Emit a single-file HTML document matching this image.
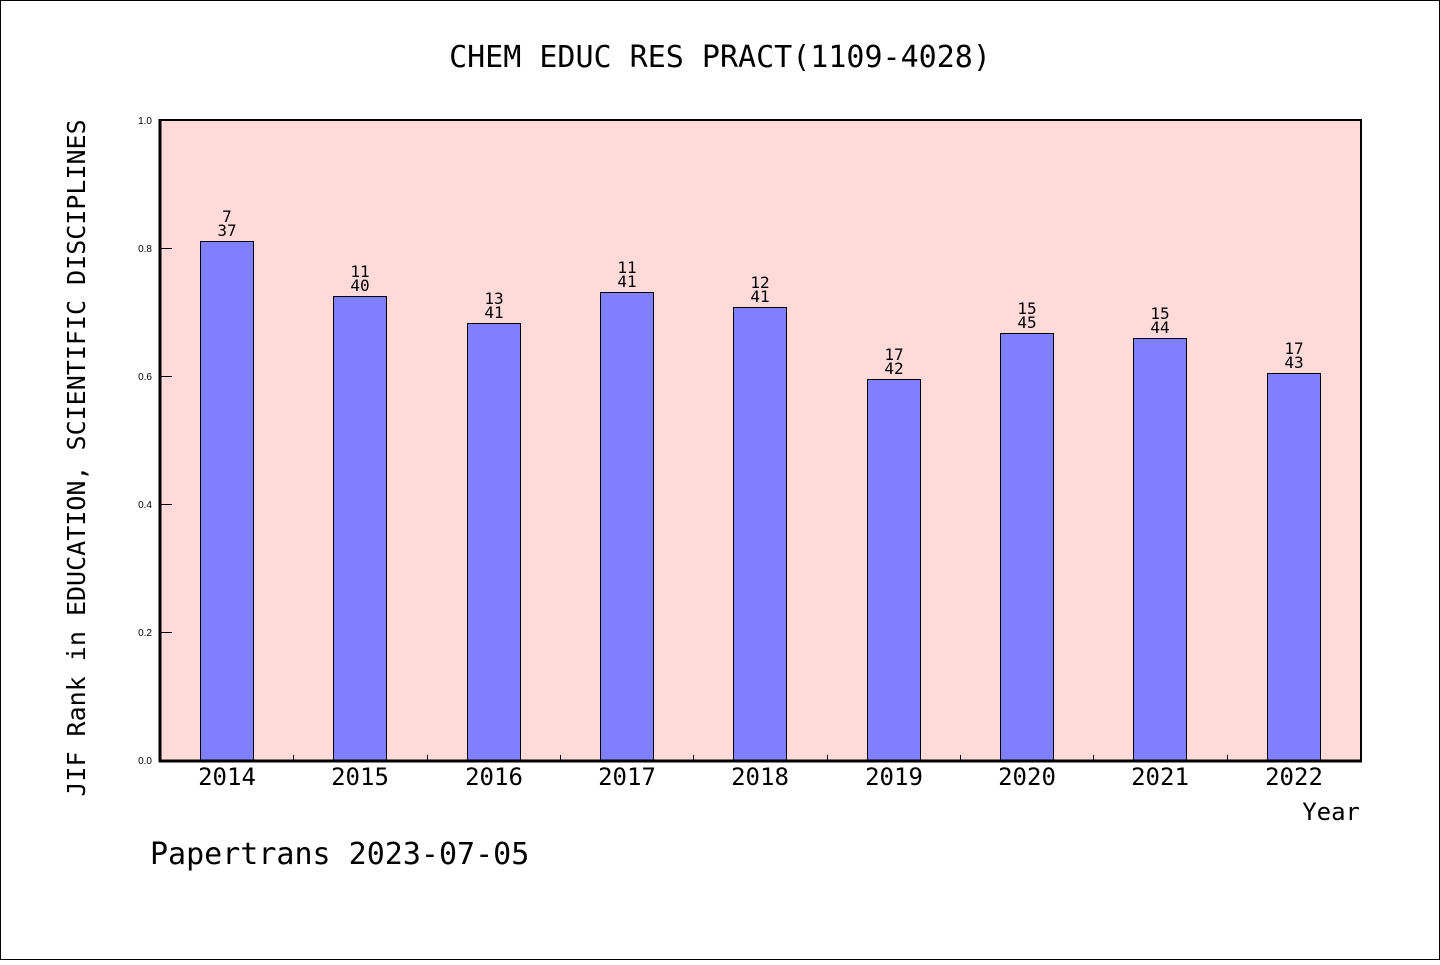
<!DOCTYPE html>
<html><head><meta charset="utf-8"><style>
body{margin:0;background:#fff}
svg text{font-family:"WenQuanYi Zen Hei","DejaVu Sans Mono",monospace}
</style></head><body>
<svg width="1440" height="960" xmlns="http://www.w3.org/2000/svg">
<rect x="0.5" y="0.5" width="1439" height="959" fill="#fff" stroke="#000"/>
<text x="720" y="67" font-size="30" text-anchor="middle">CHEM EDUC RES PRACT(1109-4028)</text>
<rect x="160" y="120" width="1201" height="640" fill="#ffdad8"/>
<g fill="#8080ff" stroke="#000" stroke-width="1">
<rect x="200.5" y="241.5" width="53" height="519"/>
<rect x="333.5" y="296.5" width="53" height="464"/>
<rect x="467.5" y="323.5" width="53" height="437"/>
<rect x="600.5" y="292.5" width="53" height="468"/>
<rect x="733.5" y="307.5" width="53" height="453"/>
<rect x="867.5" y="379.5" width="53" height="381"/>
<rect x="1000.5" y="333.5" width="53" height="427"/>
<rect x="1133.5" y="338.5" width="53" height="422"/>
<rect x="1267.5" y="373.5" width="53" height="387"/>
</g>
<g font-size="16" text-anchor="middle">
<text x="227" y="222">7</text><text x="227" y="236">37</text>
<text x="360" y="277">11</text><text x="360" y="291">40</text>
<text x="494" y="304">13</text><text x="494" y="318">41</text>
<text x="627" y="273">11</text><text x="627" y="287">41</text>
<text x="760" y="288">12</text><text x="760" y="302">41</text>
<text x="894" y="360">17</text><text x="894" y="374">42</text>
<text x="1027" y="314">15</text><text x="1027" y="328">45</text>
<text x="1160" y="319">15</text><text x="1160" y="333">44</text>
<text x="1294" y="354">17</text><text x="1294" y="368">43</text>
</g>
<rect x="160" y="120" width="1201" height="641" fill="none" stroke="#000" stroke-width="2"/>
<line x1="160" y1="119" x2="160" y2="762" stroke="#000" stroke-width="3"/>
<line x1="159" y1="761" x2="1362" y2="761" stroke="#000" stroke-width="3"/>
<g stroke="#000" stroke-width="1">
<line x1="161" y1="248.5" x2="172" y2="248.5"/>
<line x1="161" y1="376.5" x2="172" y2="376.5"/>
<line x1="161" y1="504.5" x2="172" y2="504.5"/>
<line x1="161" y1="632.5" x2="172" y2="632.5"/>
<line x1="293.5" y1="755" x2="293.5" y2="760"/><line x1="427.5" y1="755" x2="427.5" y2="760"/>
<line x1="560.5" y1="755" x2="560.5" y2="760"/><line x1="693.5" y1="755" x2="693.5" y2="760"/>
<line x1="827.5" y1="755" x2="827.5" y2="760"/><line x1="960.5" y1="755" x2="960.5" y2="760"/>
<line x1="1093.5" y1="755" x2="1093.5" y2="760"/><line x1="1227.5" y1="755" x2="1227.5" y2="760"/>
</g>
<g font-size="10" text-anchor="end">
<text x="152" y="124" style="font-family:'Liberation Sans',sans-serif">1.0</text>
<text x="152" y="252" style="font-family:'Liberation Sans',sans-serif">0.8</text>
<text x="152" y="380" style="font-family:'Liberation Sans',sans-serif">0.6</text>
<text x="152" y="508" style="font-family:'Liberation Sans',sans-serif">0.4</text>
<text x="152" y="636" style="font-family:'Liberation Sans',sans-serif">0.2</text>
<text x="152" y="764" style="font-family:'Liberation Sans',sans-serif">0.0</text>
</g>
<g font-size="24" text-anchor="middle">
<text x="227" y="785">2014</text><text x="360" y="785">2015</text><text x="494" y="785">2016</text>
<text x="627" y="785">2017</text><text x="760" y="785">2018</text><text x="894" y="785">2019</text>
<text x="1027" y="785">2020</text><text x="1160" y="785">2021</text><text x="1294" y="785">2022</text>
</g>
<text x="1360" y="820" font-size="24" text-anchor="end">Year</text>
<text transform="translate(85,458) rotate(-90)" font-size="25" text-anchor="middle">JIF Rank in EDUCATION, SCIENTIFIC DISCIPLINES</text>
<text x="150" y="864" font-size="30">Papertrans 2023-07-05</text>
</svg>
</body></html>
